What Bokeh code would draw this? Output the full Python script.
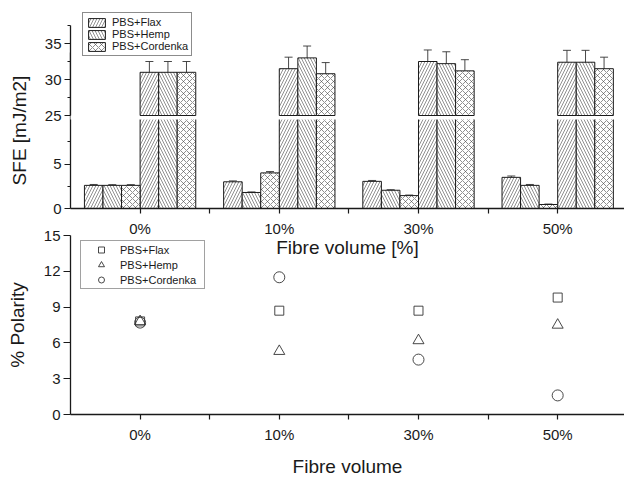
import numpy as np
from bokeh.plotting import figure
from bokeh.layouts import column
from bokeh.models import (ColumnDataSource, FixedTicker, Whisker, TeeHead, Legend,
                          LegendItem, Range1d)
from bokeh.embed import file_html
from bokeh.resources import INLINE

# ---------------- data ----------------
categories = ["0%", "10%", "30%", "50%"]
series = ["PBS+Flax", "PBS+Hemp", "PBS+Cordenka"]

# small bars (lower segment of the broken axis)
flax_polar = [2.6, 3.0, 3.05, 3.5]
hemp_polar = [2.6, 1.8, 2.05, 2.6]
cord_polar = [2.6, 4.0, 1.45, 0.45]
flax_polar_err = [0.1, 0.1, 0.1, 0.15]
hemp_polar_err = [0.08, 0.06, 0.06, 0.1]
cord_polar_err = [0.08, 0.15, 0.06, 0.05]

# tall bars (upper segment of the broken axis)
flax_total = [31.0, 31.5, 32.5, 32.4]
hemp_total = [31.0, 33.0, 32.2, 32.4]
cord_total = [31.0, 30.8, 31.2, 31.5]
flax_total_err = [1.5, 1.6, 1.6, 1.65]
hemp_total_err = [1.5, 1.65, 1.65, 1.65]
cord_total_err = [1.5, 1.55, 1.55, 1.6]

# % polarity (bottom panel)
flax_polarity = [7.8, 8.7, 8.7, 9.8]
hemp_polarity = [7.8, 5.3, 6.2, 7.5]
cord_polarity = [7.7, 11.5, 4.6, 1.6]

upper_ticks = [25, 30, 35]
upper_minor = [27.5, 32.5, 37.5]
lower_ticks = [0, 5]
lower_minor = [2.5, 7.5]
polarity_ticks = [0, 3, 6, 9, 12, 15]

# broken axis segments
LOW_SEG = (0, 10)
UP_SEG = (25, 37.5)

# ---------------- style / layout ----------------
FONT = "Liberation Sans"
W = 624
LEFT = 70
X_RANGE = (0.5, 4.48)
BW = 0.1333
HATCH = ["/", "\\", "x"]
INK = "#1a1a1a"

# vertical layout in pixels
UP_TOP, UP_BREAK, GAP = 10, 115, 4      # upper frame top, y of 25, white gap
UP_SEG_TOP = 25                          # y of 37.5
LOW_FRAME_TOP, LOW_BOTTOM = 52, 208      # lower figure frame (its axis label centres here)
LOW_SEG_TOP = UP_BREAK + GAP             # y of 10

px_up = (UP_BREAK - UP_SEG_TOP) / (UP_SEG[1] - UP_SEG[0])
px_low = (LOW_BOTTOM - LOW_SEG_TOP) / (LOW_SEG[1] - LOW_SEG[0])
up_range = (UP_SEG[0] - GAP / px_up, UP_SEG[1] + (UP_SEG_TOP - UP_TOP) / px_up)
low_range = (LOW_SEG[0], LOW_SEG[0] + (LOW_BOTTOM - LOW_FRAME_TOP) / px_low)

xs = list(range(1, len(categories) + 1))
xmin = [x + 0.5 for x in xs[:-1]]
overrides = {x: c for x, c in zip(xs, categories)}


def base_fig(height, yr, top, bottom, xr, **kw):
    p = figure(width=W, height=height, x_range=xr, y_range=Range1d(*yr),
               output_backend="svg", toolbar_location=None,
               min_border_left=LEFT, min_border_right=0,
               min_border_top=top, min_border_bottom=bottom, **kw)
    p.outline_line_color = None
    p.grid.visible = False
    p.background_fill_color = "white"
    p.border_fill_color = None
    for ax in p.axis:
        ax.axis_line_color = INK
        ax.axis_line_width = 1.3
        ax.major_tick_line_color = INK
        ax.minor_tick_line_color = INK
        ax.major_tick_line_width = 1.2
        ax.minor_tick_line_width = 1.2
        ax.major_tick_in = 0
        ax.minor_tick_in = 0
        ax.major_label_text_font = FONT
        ax.major_label_text_font_size = "15px"
        ax.major_label_text_color = INK
        ax.axis_label_text_font = FONT
        ax.axis_label_text_font_size = "19px"
        ax.axis_label_text_font_style = "normal"
        ax.axis_label_text_color = INK
    return p


xr_top = Range1d(*X_RANGE)
offs_small = [-2.5 * BW, -1.5 * BW, -0.5 * BW]
offs_tall = [0.5 * BW, 1.5 * BW, 2.5 * BW]
small_vals = [flax_polar, hemp_polar, cord_polar]
small_errs = [flax_polar_err, hemp_polar_err, cord_polar_err]
tall_vals = [flax_total, hemp_total, cord_total]
tall_errs = [flax_total_err, hemp_total_err, cord_total_err]


def bars(p, offs, vals, i, bottom):
    src = ColumnDataSource(dict(x=[x + offs[i] for x in xs], top=vals[i]))
    return p.vbar(x="x", top="top", bottom=bottom, width=BW, source=src,
                  fill_color="white", line_color=INK, line_width=1,
                  hatch_pattern=HATCH[i], hatch_color="#444444",
                  hatch_scale=6, hatch_weight=0.6)


def whiskers(p, offs, vals, errs):
    for i in range(3):
        src = ColumnDataSource(dict(
            x=[x + offs[i] for x in xs],
            lower=[v - e for v, e in zip(vals[i], errs[i])],
            upper=[v + e for v, e in zip(vals[i], errs[i])]))
        p.add_layout(Whisker(base="x", lower="lower", upper="upper", source=src,
                             line_color="#333333", line_width=0.9,
                             upper_head=TeeHead(size=8, line_color="#333333", line_width=0.9),
                             lower_head=TeeHead(size=8, line_color="#333333", line_width=0.9)))


# ---------- lower segment (drawn first, underneath) ----------
H_LOW = LOW_FRAME_TOP + (LOW_BOTTOM - LOW_FRAME_TOP) + 55
fl = base_fig(H_LOW, low_range, LOW_FRAME_TOP, 55, xr_top)
fl.border_fill_color = "white"
fl.yaxis.ticker = FixedTicker(ticks=lower_ticks, minor_ticks=lower_minor)
fl.yaxis.major_tick_out = 6
fl.yaxis.minor_tick_out = 3
fl.yaxis.major_label_standoff = 3
fl.yaxis.axis_label = "SFE [mJ/m2]"
fl.yaxis.axis_label_standoff = 20
fl.xaxis.ticker = FixedTicker(ticks=xs, minor_ticks=xmin)
fl.xaxis.major_label_overrides = overrides
fl.xaxis.major_tick_out = 5
fl.xaxis.minor_tick_out = 5
fl.xaxis.major_label_standoff = 6
fl.xaxis.axis_label = "Fibre volume [%]"
fl.xaxis.axis_label_standoff = -3
for i in range(3):
    bars(fl, offs_small, small_vals, i, 0)
    bars(fl, offs_tall, tall_vals, i, 0)
whiskers(fl, offs_small, small_vals, small_errs)

# ---------- upper segment (overlaid on top) ----------
H_UP = UP_BREAK + GAP + 8
fu = base_fig(H_UP, up_range, UP_TOP, 8, xr_top, x_axis_location=None)
fu.margin = (-H_LOW, 0, 0, 0)
fu.yaxis.ticker = FixedTicker(ticks=upper_ticks, minor_ticks=upper_minor)
fu.yaxis.bounds = UP_SEG
fu.yaxis.major_tick_out = 6
fu.yaxis.minor_tick_out = 3
fu.yaxis.major_label_standoff = 3
rs_u = [bars(fu, offs_tall, tall_vals, i, UP_SEG[0]) for i in range(3)]
whiskers(fu, offs_tall, tall_vals, tall_errs)

legend_top = Legend(items=[LegendItem(label=series[i], renderers=[rs_u[i]]) for i in range(3)],
                    location=(12, 63), margin=0, padding=3, spacing=0,
                    glyph_width=21, glyph_height=11, label_height=11,
                    label_standoff=5, label_text_font=FONT,
                    label_text_font_size="11px", label_text_color=INK,
                    border_line_color=INK, border_line_width=1,
                    background_fill_color="white", background_fill_alpha=1)
fu.add_layout(legend_top)

# ---------- axis-break marks (small transparent overlay figure at the break) ----------
BRK_X, BRK_Y, BRK_W, BRK_H = 50, 100, 40, 30
fx = figure(frame_width=BRK_W, frame_height=BRK_H,
            x_range=Range1d(0, BRK_W), y_range=Range1d(0, BRK_H),
            output_backend="svg", toolbar_location=None, title=None,
            min_border=0, min_border_left=0, min_border_right=0,
            min_border_top=0, min_border_bottom=0,
            x_axis_location=None, y_axis_location=None)
fx.margin = (BRK_Y - H_UP, 0, 0, BRK_X)
fx.outline_line_color = None
fx.grid.visible = False
fx.background_fill_color = None
fx.border_fill_color = None
fx.segment(x0=[11.5, 11.5], y0=[14.5, 11.5], x1=[28.5, 28.5], y1=[19.0, 16.0],
           line_color=INK, line_width=1.3)

# ---------- bottom panel: % polarity ----------
B_TOP = 225
fb = base_fig(254, (0, 15), 10, 60, Range1d(*X_RANGE))
fb.margin = (B_TOP - (BRK_Y + BRK_H), 0, 0, 0)
fb.background_fill_color = None
fb.yaxis.ticker = FixedTicker(ticks=polarity_ticks, minor_ticks=[])
fb.yaxis.major_tick_out = 7
fb.yaxis.major_label_standoff = 3
fb.yaxis.axis_label = "% Polarity"
fb.yaxis.axis_label_standoff = 13
fb.xaxis.ticker = FixedTicker(ticks=xs, minor_ticks=xmin)
fb.xaxis.major_label_overrides = overrides
fb.xaxis.major_tick_out = 5
fb.xaxis.minor_tick_out = 5
fb.xaxis.major_label_standoff = 6
fb.xaxis.axis_label = "Fibre volume"
fb.xaxis.axis_label_standoff = 10

markers = ["square", "triangle", "circle"]
sizes = [9, 11, 11]
pol_vals = [flax_polarity, hemp_polarity, cord_polarity]
items_b = []
for i in range(3):
    src = ColumnDataSource(dict(x=xs, y=pol_vals[i]))
    r = fb.scatter(x="x", y="y", source=src, marker=markers[i], size=sizes[i],
                   fill_color=None, line_color="#333333", line_width=0.9)
    items_b.append(LegendItem(label=series[i], renderers=[r]))

legend_b = Legend(items=items_b, location=(10, 125), margin=0, padding=1,
                  spacing=0, glyph_width=38, glyph_height=15, label_height=15,
                  label_width=83, label_standoff=-2, label_text_font=FONT,
                  label_text_font_size="11px", label_text_color=INK,
                  border_line_color="#444444", border_line_width=1,
                  background_fill_color="white", background_fill_alpha=1)
fb.add_layout(legend_b)

layout = column(fl, fu, fx, fb, spacing=0)
open("out.html", "w").write(file_html(layout, INLINE))
